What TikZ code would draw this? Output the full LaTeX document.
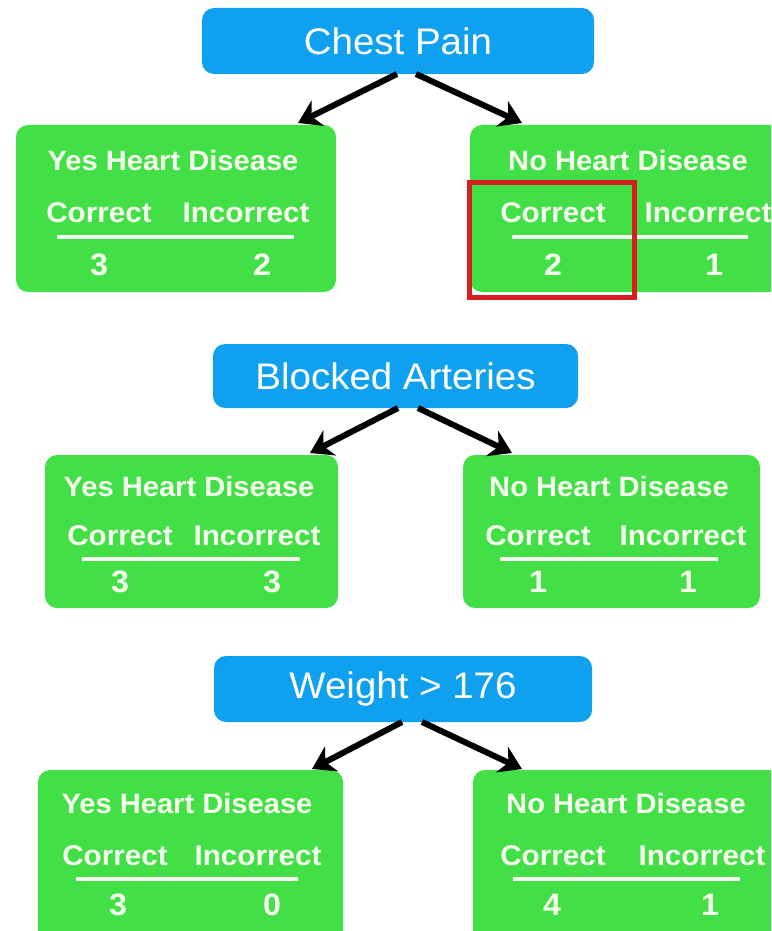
\documentclass[tikz,border=0pt]{standalone}
\usepackage{fontspec}
\setmainfont{Liberation Sans}[FakeStretch=1.04]
\usetikzlibrary{arrows.meta}
\definecolor{rootblue}{RGB}{16,160,240}
\definecolor{leafgreen}{RGB}{66,224,70}
\definecolor{txtc}{RGB}{246,252,238}
\definecolor{hl}{RGB}{212,30,32}
\begin{document}
\begin{tikzpicture}[x=1pt,y=-1pt,
  rootbox/.style={fill=rootblue, rounded corners=12pt, text=white, inner sep=0pt, outer sep=0pt,
     font=\fontsize{37}{40}\selectfont},
  leafbox/.style={fill=leafgreen, rounded corners=12pt, inner sep=0pt, outer sep=0pt},
  headtxt/.style={text=txtc, inner sep=0pt, font=\bfseries\fontsize{28}{30}\selectfont},
  coltxt/.style={text=txtc, inner sep=0pt, font=\bfseries\fontsize{28.5}{30}\selectfont},
  numtxt/.style={text=txtc, inner sep=0pt, font=\bfseries\fontsize{31}{34}\selectfont},
  rulel/.style={draw=txtc, line width=4pt},
  arr/.style={draw=black, line width=6pt, -{Stealth[length=22pt,width=28pt,inset=7pt]}},
  hlbox/.style={draw=hl, line width=5pt, inner sep=0pt, outer sep=0pt}
]
\useasboundingbox[fill=white] (0,0) rectangle (771,931);
\clip (0,0) rectangle (771,931);

% ---------- Chest Pain ----------
\node[rootbox, minimum width=392pt, minimum height=66pt] (r1) at (398,41) {Chest Pain};
\node[leafbox, minimum width=320pt, minimum height=167pt] (l1) at (176,208.5) {};
\node[leafbox, minimum width=320pt, minimum height=167pt] (n1) at (630,208.5) {};
\coordinate (r1a) at (397,74);
\coordinate (r1b) at (416,74);
\coordinate (l1t) at (298,123);
\coordinate (n1t) at (522,123);
\draw[arr] (r1a) -- (l1t);
\draw[arr] (r1b) -- (n1t);

\node[headtxt] (l1h) at (173,160) {Yes Heart Disease};
\node[coltxt] (l1c) at (99,213) {Correct};
\node[coltxt] (l1i) at (246,213) {Incorrect};
\coordinate (l1ra) at (57,237); \coordinate (l1rb) at (294,237);
\draw[rulel] (l1ra) -- (l1rb);
\node[numtxt] (l1x) at (99,265) {3};
\node[numtxt] (l1y) at (262,265) {2};

\node[headtxt] (n1h) at (628,160) {No Heart Disease};
\node[coltxt] (n1c) at (553,213) {Correct};
\node[coltxt] (n1i) at (708,213) {Incorrect};
\coordinate (n1ra) at (512,237); \coordinate (n1rb) at (748,237);
\draw[rulel] (n1ra) -- (n1rb);
\node[numtxt] (n1x) at (553,265) {2};
\node[numtxt] (n1y) at (714,265) {1};

\node[hlbox, minimum width=165pt, minimum height=115pt] (hl1) at (551.5,239.5) {};

% ---------- Blocked Arteries ----------
\node[rootbox, minimum width=365pt, minimum height=64pt] (r2) at (395.5,376) {Blocked Arteries};
\node[leafbox, minimum width=293pt, minimum height=153pt] (l2) at (191.5,531.5) {};
\node[leafbox, minimum width=297pt, minimum height=153pt] (n2) at (611.5,531.5) {};
\coordinate (r2a) at (398,408);
\coordinate (r2b) at (418,408);
\coordinate (l2t) at (310,453);
\coordinate (n2t) at (512,453);
\draw[arr] (r2a) -- (l2t);
\draw[arr] (r2b) -- (n2t);

\node[headtxt] (l2h) at (189,486) {Yes Heart Disease};
\node[coltxt] (l2c) at (120,536) {Correct};
\node[coltxt] (l2i) at (257,536) {Incorrect};
\coordinate (l2ra) at (82,559); \coordinate (l2rb) at (300,559);
\draw[rulel] (l2ra) -- (l2rb);
\node[numtxt] (l2x) at (120,582) {3};
\node[numtxt] (l2y) at (272,582) {3};

\node[headtxt] (n2h) at (609,486) {No Heart Disease};
\node[coltxt] (n2c) at (538,536) {Correct};
\node[coltxt] (n2i) at (683,536) {Incorrect};
\coordinate (n2ra) at (500,559); \coordinate (n2rb) at (718,559);
\draw[rulel] (n2ra) -- (n2rb);
\node[numtxt] (n2x) at (538,582) {1};
\node[numtxt] (n2y) at (688,582) {1};

% ---------- Weight > 176 ----------
\node[rootbox, minimum width=378pt, minimum height=66pt] (r3) at (403,689) {Weight > 176};
\node[leafbox, minimum width=305pt, minimum height=175pt] (l3) at (190.5,857.5) {};
\node[leafbox, minimum width=317pt, minimum height=175pt] (n3) at (631.5,857.5) {};
\coordinate (r3a) at (402,722);
\coordinate (r3b) at (422,722);
\coordinate (l3t) at (312,769);
\coordinate (n3t) at (522,769);
\draw[arr] (r3a) -- (l3t);
\draw[arr] (r3b) -- (n3t);

\node[headtxt] (l3h) at (187,803) {Yes Heart Disease};
\node[coltxt] (l3c) at (115,856) {Correct};
\node[coltxt] (l3i) at (258,856) {Incorrect};
\coordinate (l3ra) at (76,879); \coordinate (l3rb) at (298,879);
\draw[rulel] (l3ra) -- (l3rb);
\node[numtxt] (l3x) at (118,905) {3};
\node[numtxt] (l3y) at (272,905) {0};

\node[headtxt] (n3h) at (626,803) {No Heart Disease};
\node[coltxt] (n3c) at (553,856) {Correct};
\node[coltxt] (n3i) at (702,856) {Incorrect};
\coordinate (n3ra) at (513,879); \coordinate (n3rb) at (740,879);
\draw[rulel] (n3ra) -- (n3rb);
\node[numtxt] (n3x) at (552,905) {4};
\node[numtxt] (n3y) at (710,905) {1};
\end{tikzpicture}
\end{document}
